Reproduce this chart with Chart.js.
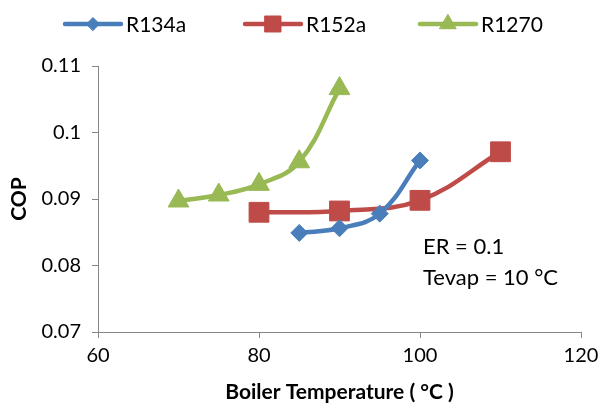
<!DOCTYPE html>
<html>
<head>
<meta charset="utf-8">
<script src="https://cdn.jsdelivr.net/npm/chart.js@4/dist/chart.umd.min.js"></script>
<style>
  html, body { margin: 0; padding: 0; background: #fff; }
  #wrap { width: 598px; height: 405px; position: relative; }
</style>
</head>
<body>
<div id="wrap"><canvas id="copChart"></canvas></div>
<script>
// values
const seriesNames = ['R134a', 'R152a', 'R1270'];
const tempR134a = [85, 90, 95, 100];
const copR134a = [0.0849, 0.0856, 0.0878, 0.0958];
const tempR152a = [80, 90, 100, 110];
const copR152a = [0.0880, 0.0882, 0.0898, 0.0971];
const tempR1270 = [70, 75, 80, 85, 90];
const copR1270 = [0.0897, 0.0906, 0.0922, 0.0956, 0.1066];
const xTicks = [60, 80, 100, 120];
const yTicks = [0.07, 0.08, 0.09, 0.1, 0.11];
const noteLines = ['ER = 0.1', 'Tevap = 10 °C'];

const toPoints = (xs, ys) => xs.map((x, i) => ({ x: x, y: ys[i] }));

const FONT = 'Lato';
const AXIS_GREY = '#868686';
const legendX = [63, 243, 418];
const legendRadius = [6.5, 11.3, 9.5];

// legend drawn as line + marker, like the office-style legend
const lineLegend = {
  id: 'lineLegend',
  afterDraw(chart) {
    const ctx = chart.ctx;
    ctx.save();
    chart.data.datasets.forEach((ds, i) => {
      const x = legendX[i];
      const y = 24;
      ctx.strokeStyle = ds.borderColor;
      ctx.lineWidth = 4.5;
      ctx.lineCap = 'round';
      ctx.beginPath();
      ctx.moveTo(x + 2, y);
      ctx.lineTo(x + 58, y);
      ctx.stroke();
      ctx.fillStyle = ds.pointBackgroundColor;
      ctx.strokeStyle = ds.borderColor;
      ctx.lineWidth = 1;
      Chart.helpers.drawPoint(ctx, {
        pointStyle: ds.pointStyle, radius: legendRadius[i], borderWidth: 1, rotation: 0,
      }, x + 30, y);
      ctx.fillStyle = '#000';
      ctx.font = '21px ' + FONT;
      ctx.textAlign = 'left';
      ctx.textBaseline = 'middle';
      ctx.fillText(ds.label, x + 63, y + 1);
    });
    ctx.restore();
  },
};

// ER / Tevap note
const noteText = {
  id: 'noteText',
  afterDraw(chart) {
    const { ctx, chartArea } = chart;
    ctx.save();
    ctx.fillStyle = '#000';
    ctx.font = '22px ' + FONT;
    ctx.textAlign = 'left';
    ctx.textBaseline = 'alphabetic';
    noteLines.forEach((t, i) => {
      ctx.fillText(t, chartArea.left + 325, chartArea.top + 188 + i * 31);
    });
    ctx.restore();
  },
};

const makeSet = (label, xs, ys, color, style, r) => ({
  label: label,
  data: toPoints(xs, ys),
  borderColor: color,
  backgroundColor: color,
  pointBackgroundColor: color,
  pointBorderColor: color,
  pointBorderWidth: 1,
  pointStyle: style,
  pointRadius: r,
  pointHoverRadius: r,
  borderWidth: 4.5,
  tension: 0.4,
  showLine: true,
  fill: false,
});

const ctx = document.getElementById('copChart');
const copChart = new Chart(ctx, {
  type: 'scatter',
  data: {
    datasets: [
      makeSet(seriesNames[0], tempR134a, copR134a, '#4A7EBB', 'rectRot', 8.5),
      makeSet(seriesNames[1], tempR152a, copR152a, '#BE4B48', 'rect', 14),
      makeSet(seriesNames[2], tempR1270, copR1270, '#98B954', 'triangle', 12),
    ],
  },
  options: {
    responsive: true,
    maintainAspectRatio: false,
    animation: false,
    layout: { padding: { top: 66, right: 0, bottom: 0, left: 0 } },
    plugins: {
      legend: { display: false },
      tooltip: { enabled: false },
    },
    scales: {
      x: {
        type: 'linear',
        min: 60,
        max: 120,
        afterBuildTicks: (s) => { s.ticks = xTicks.map((v) => ({ value: v })); },
        afterFit: (s) => { s.height = 73; s.paddingRight = 17; s.paddingLeft = 0; },
        border: { color: AXIS_GREY, width: 1 },
        grid: { drawOnChartArea: false, drawTicks: true, tickLength: 6, color: AXIS_GREY },
        ticks: { color: '#000', padding: 6, font: { family: FONT, size: 20 } },
        title: {
          display: true,
          text: 'Boiler Temperature ( °C )',
          color: '#000',
          font: { family: FONT, size: 21, weight: 'bold' },
          padding: { top: 0, bottom: 0 },
        },
      },
      y: {
        min: 0.07,
        max: 0.11,
        afterBuildTicks: (s) => { s.ticks = yTicks.map((v) => ({ value: v })); },
        afterFit: (s) => { s.width = 98; },
        border: { color: AXIS_GREY, width: 1 },
        grid: { drawOnChartArea: false, drawTicks: true, tickLength: 6, color: AXIS_GREY },
        ticks: {
          color: '#000',
          padding: 11,
          font: { family: FONT, size: 20 },
          callback: (v) => String(+Number(v).toFixed(2)),
        },
        title: {
          display: true,
          text: 'COP',
          color: '#000',
          font: { family: FONT, size: 21, weight: 'bold' },
          padding: { top: 7, bottom: 0 },
        },
      },
    },
  },
  plugins: [lineLegend, noteText],
});
</script>
</body>
</html>
